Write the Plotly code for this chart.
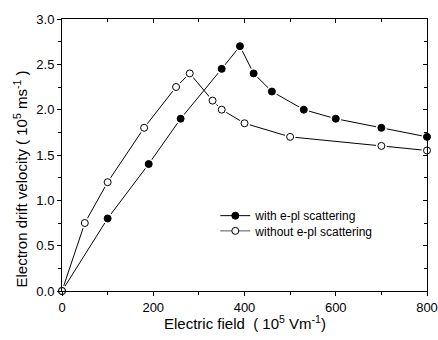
import plotly.graph_objects as go

field_with = [0, 100, 190, 260, 350, 390, 420, 460, 530, 600, 700, 800]
vel_with = [0.0, 0.8, 1.4, 1.9, 2.45, 2.7, 2.4, 2.2, 2.0, 1.9, 1.8, 1.7]
field_without = [0, 50, 100, 180, 250, 280, 330, 350, 400, 500, 700, 800]
vel_without = [0.0, 0.75, 1.2, 1.8, 2.25, 2.4, 2.1, 2.0, 1.85, 1.7, 1.6, 1.55]
x_ticks = [0, 200, 400, 600, 800]
y_ticks = [0.0, 0.5, 1.0, 1.5, 2.0, 2.5, 3.0]
x_minor = [100, 300, 500, 700]
y_minor = [0.25, 0.75, 1.25, 1.75, 2.25, 2.75]
series_names = ["with e-pl scattering", "without e-pl scattering"]

FONT = "Liberation Sans, Arial, sans-serif"
fig = go.Figure()

# lines
for x, y in [(field_with, vel_with), (field_without, vel_without)]:
    fig.add_trace(go.Scatter(x=x, y=y, mode="lines", line=dict(color="black", width=1),
                             showlegend=False, hoverinfo="skip", cliponaxis=False))
# white halos to create gaps at markers
for x, y in [(field_with, vel_with), (field_without, vel_without)]:
    fig.add_trace(go.Scatter(x=x, y=y, mode="markers",
                             marker=dict(color="white", size=11, line=dict(width=0)),
                             showlegend=False, hoverinfo="skip", cliponaxis=False))
fig.add_trace(go.Scatter(x=field_with, y=vel_with, mode="markers", name=series_names[0],
                         marker=dict(symbol="circle", color="black", size=7, line=dict(color="black", width=1)),
                         showlegend=False, cliponaxis=False))
fig.add_trace(go.Scatter(x=field_without, y=vel_without, mode="markers", name=series_names[1],
                         marker=dict(symbol="circle", color="white", size=7, line=dict(color="black", width=1)),
                         showlegend=False, cliponaxis=False))
# legend entries
fig.add_trace(go.Scatter(x=[None], y=[None], mode="lines+markers", name=series_names[0],
                         line=dict(color="black", width=1), legend="legend",
                         marker=dict(symbol="circle", color="black", size=7, line=dict(color="black", width=1))))
fig.add_trace(go.Scatter(x=[None], y=[None], mode="lines+markers", name=series_names[1],
                         line=dict(color="#555555", width=1), legend="legend2",
                         marker=dict(symbol="circle", color="white", size=7, line=dict(color="black", width=1))))
# invisible trace for mirrored axes
fig.add_trace(go.Scatter(x=[0], y=[0], xaxis="x2", yaxis="y2", mode="markers",
                         marker=dict(opacity=0), showlegend=False, hoverinfo="skip"))

axis_common = dict(showgrid=False, zeroline=False, showline=True, linecolor="black", linewidth=1,
                   tickcolor="black", automargin=False,
                   tickfont=dict(family=FONT, size=13, color="black"))

legend_common = dict(xanchor="left", yanchor="middle", bgcolor="rgba(0,0,0,0)",
                     font=dict(family=FONT, size=12), itemwidth=30)

fig.update_layout(
    width=438, height=340,
    margin=dict(l=62, r=11, t=19, b=49),
    paper_bgcolor="white", plot_bgcolor="white",
    font=dict(family=FONT, color="black"),
    xaxis=dict(range=[0, 800], tickvals=x_ticks, ticks="outside", ticklen=4,
               minor=dict(tickvals=x_minor, ticks="outside", ticklen=3, tickcolor="black"),
               **axis_common),
    yaxis=dict(range=[0, 3.0], tickvals=y_ticks, tickformat=".1f",
               ticks="outside", ticklen=4,
               minor=dict(tickvals=y_minor, ticks="outside", ticklen=3, tickcolor="black"),
               **axis_common),
    xaxis2=dict(range=[0, 800], overlaying="x", side="top", anchor="y", tickvals=x_ticks,
                ticks="inside", ticklen=4, showticklabels=False,
                minor=dict(tickvals=x_minor, ticks="inside", ticklen=3, tickcolor="black"),
                **axis_common),
    yaxis2=dict(range=[0, 3.0], overlaying="y", side="right", anchor="x", tickvals=y_ticks,
                ticks="inside", ticklen=4, showticklabels=False,
                minor=dict(tickvals=y_minor, ticks="inside", ticklen=3, tickcolor="black"),
                **axis_common),
    legend=dict(x=0.42, y=0.277, **legend_common),
    legend2=dict(x=0.42, y=0.221, **legend_common),
    showlegend=True,
    annotations=[
        dict(text="Electric field  ( 10<sup>5</sup> Vm<sup>-1</sup>)", xref="paper", yref="paper",
             x=0.5, y=-0.1176, xanchor="center", yanchor="middle", showarrow=False,
             font=dict(family=FONT, size=15, color="black")),
        dict(text="Electron drift velocity ( 10<sup>5</sup> ms<sup>-1</sup> )", xref="paper", yref="paper",
             x=-0.115, y=0.41, xanchor="center", yanchor="middle", showarrow=False, textangle=-90,
             font=dict(family=FONT, size=15, color="black")),
    ],
)

fig.write_html("out.html", config={"displayModeBar": False},
               post_script="document.body.style.margin='0';document.body.style.overflow='hidden';")
